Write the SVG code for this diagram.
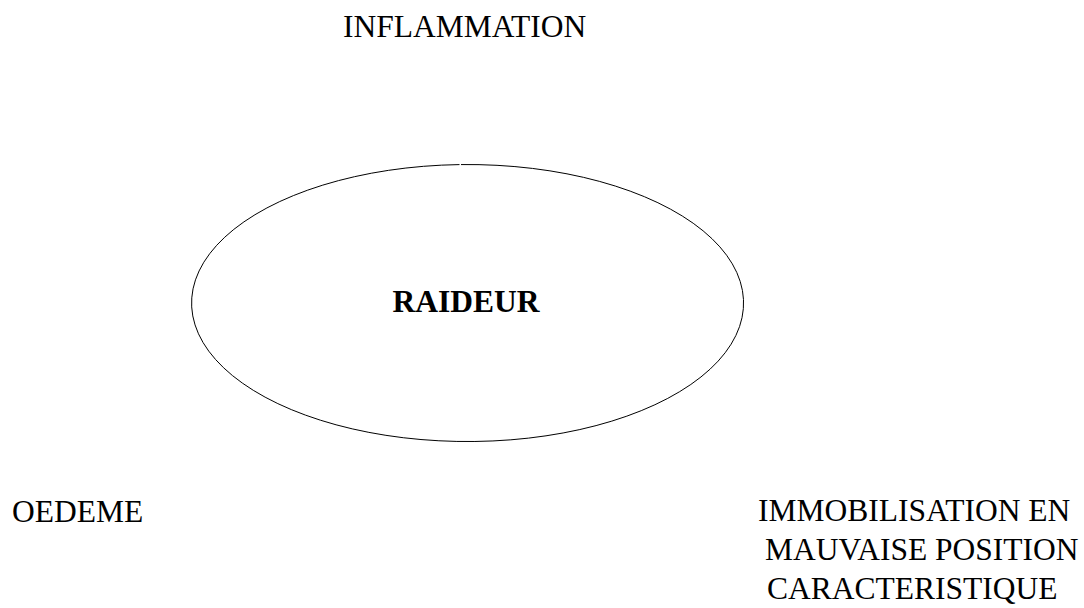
<svg xmlns="http://www.w3.org/2000/svg" width="1084" height="608" viewBox="0 0 1084 608">
<style>
text{font-family:"Liberation Serif","Times New Roman",serif;font-size:31.5px;fill:#000}
.b{font-weight:bold}
.shape{fill:none;stroke:#000;stroke-width:1}
</style>
<rect width="1084" height="608" fill="#fff"/>
<g id="inflammation"><text x="343" y="37">INFLAMMATION</text></g>
<g id="raideur">
<path class="shape" d="M459.5,164.59 A276,138.5 0 1,0 461,164.57"/>
<text class="b" x="466" y="312" text-anchor="middle">RAIDEUR</text>
</g>
<g id="oedeme"><text x="12" y="522">OEDEME</text></g>
<g id="immobilisation">
<text x="758" y="521">IMMOBILISATION EN</text>
<text x="765" y="560">MAUVAISE POSITION</text>
<text x="767" y="599">CARACTERISTIQUE</text>
</g>
<g id="connectors"></g>
</svg>
